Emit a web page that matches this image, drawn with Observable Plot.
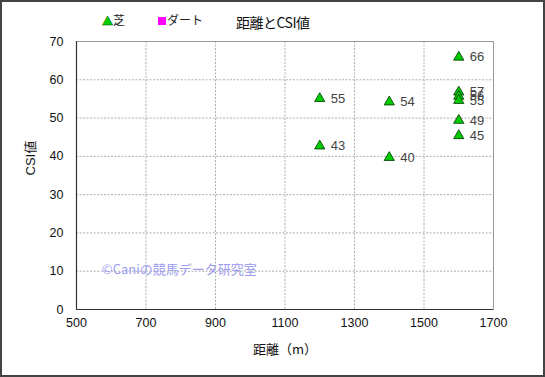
<!DOCTYPE html>
<html>
<head>
<meta charset="utf-8">
<script src="https://cdn.jsdelivr.net/npm/d3@7"></script>
<script src="https://cdn.jsdelivr.net/npm/@observablehq/plot@0.6"></script>
<style>
  body { margin: 0; background: #fff; }
  #wrap { position: relative; width: 545px; height: 377px; overflow: hidden;
          font-family: "Liberation Sans", "Noto Sans CJK JP", sans-serif; }
  #border { position: absolute; left: 0; top: 0; width: 545px; height: 377px;
            box-sizing: border-box; border: 2px solid #444; pointer-events: none; }
  .abs { position: absolute; white-space: nowrap; }
</style>
</head>
<body>
<div id="wrap">
  <div id="chart" class="abs" style="left:0;top:0"></div>
  <div class="abs" style="left:102px;top:11px;font-size:12px;color:#222;font-family:'Noto Sans CJK JP';">
    <span style="color:#00cc00;font-size:11px;-webkit-text-stroke:0.4px #004400;">▲</span>芝
  </div>
  <div class="abs" style="left:158px;top:11px;font-size:12px;color:#222;font-family:'Noto Sans CJK JP';">
    <span style="display:inline-block;width:8px;height:8px;background:#ff00ff;margin-right:1px;"></span>ダート
  </div>
  <div class="abs" style="left:236px;top:12px;font-size:14px;color:#111;font-family:'Noto Sans CJK JP';letter-spacing:-0.5px;">距離とCSI値</div>
  <div id="border"></div>
</div>
<script>
// Data
const shibaDist = [1200, 1200, 1400, 1400, 1600, 1600, 1600, 1600, 1600, 1600];
const shibaCSI  = [55.1, 42.7, 54.2, 39.7, 65.9, 56.8, 55.7, 54.6, 49.4, 45.4];
const dirtDist = [];
const dirtCSI = [];
const xTicks = [500, 700, 900, 1100, 1300, 1500, 1700];
const yTicks = [0, 10, 20, 30, 40, 50, 60, 70];
const xLabel = "距離（m）";
const yLabel = "CSI値";
const watermark = "©Caniの競馬データ研究室";

const shiba = shibaDist.map((d, i) => ({dist: d, csi: shibaCSI[i]}));
const dirt = dirtDist.map((d, i) => ({dist: d, csi: dirtCSI[i]}));

const chart = Plot.plot({
  width: 545,
  height: 377,
  marginLeft: 76,
  marginRight: 52,
  marginTop: 41,
  marginBottom: 68,
  style: {fontFamily: "'Liberation Sans', 'Noto Sans CJK JP', sans-serif", fontSize: "12px", color: "#111", background: "transparent"},
  x: {domain: [500, 1700], ticks: xTicks, tickSize: 0, tickPadding: 9, label: null, tickFormat: "d"},
  y: {domain: [0, 70], ticks: yTicks, tickSize: 0, tickPadding: 13, label: null, tickFormat: "d"},
  marks: [
    Plot.gridX(xTicks.slice(1, -1), {stroke: "#999", strokeOpacity: 1, strokeDasharray: "2,1.5", strokeWidth: 0.8}),
    Plot.gridY(yTicks.slice(1, -1), {stroke: "#999", strokeOpacity: 1, strokeDasharray: "2,1.5", strokeWidth: 0.8}),
    Plot.frame({stroke: "#999"}),
    Plot.ruleX([500], {stroke: "#333", strokeWidth: 1.2}),
    Plot.ruleY([0], {stroke: "#333", strokeWidth: 1.2}),
    Plot.axisX({ticks: xTicks, tickSize: 0, tickPadding: 9, label: null, fontSize: 12.5, tickFormat: "d"}),
    Plot.axisY({ticks: yTicks, tickSize: 0, tickPadding: 13, label: null, fontSize: 12.5, tickFormat: "d"}),
    Plot.text([xLabel], {frameAnchor: "bottom", dy: 44, fontSize: 13, fontFamily: "Noto Sans CJK JP", fill: "#111"}),
    Plot.text([yLabel], {frameAnchor: "left", dx: -46, rotate: -90, fontSize: 13, fontFamily: "'Liberation Sans','Noto Sans CJK JP'", fill: "#111"}),
    Plot.text([watermark], {x: 573, y: 10.3, textAnchor: "start", fontSize: 13, fill: "#9c9cf0", fontFamily: "Noto Sans CJK JP"}),
    Plot.dot(dirt, {x: "dist", y: "csi", symbol: "square", r: 3.5, fill: "#ff00ff", stroke: "#660066"}),
    Plot.dot(shiba, {x: "dist", y: "csi", symbol: "triangle", r: 3.8, fill: "#00cc00", stroke: "#003300", strokeWidth: 0.8}),
    Plot.text(shiba, {x: "dist", y: "csi", text: d => d3.format(".0f")(d.csi), dx: 11, textAnchor: "start", fontSize: 13, fill: "#444"})
  ]
});
document.getElementById("chart").appendChild(chart);
</script>
</body>
</html>
